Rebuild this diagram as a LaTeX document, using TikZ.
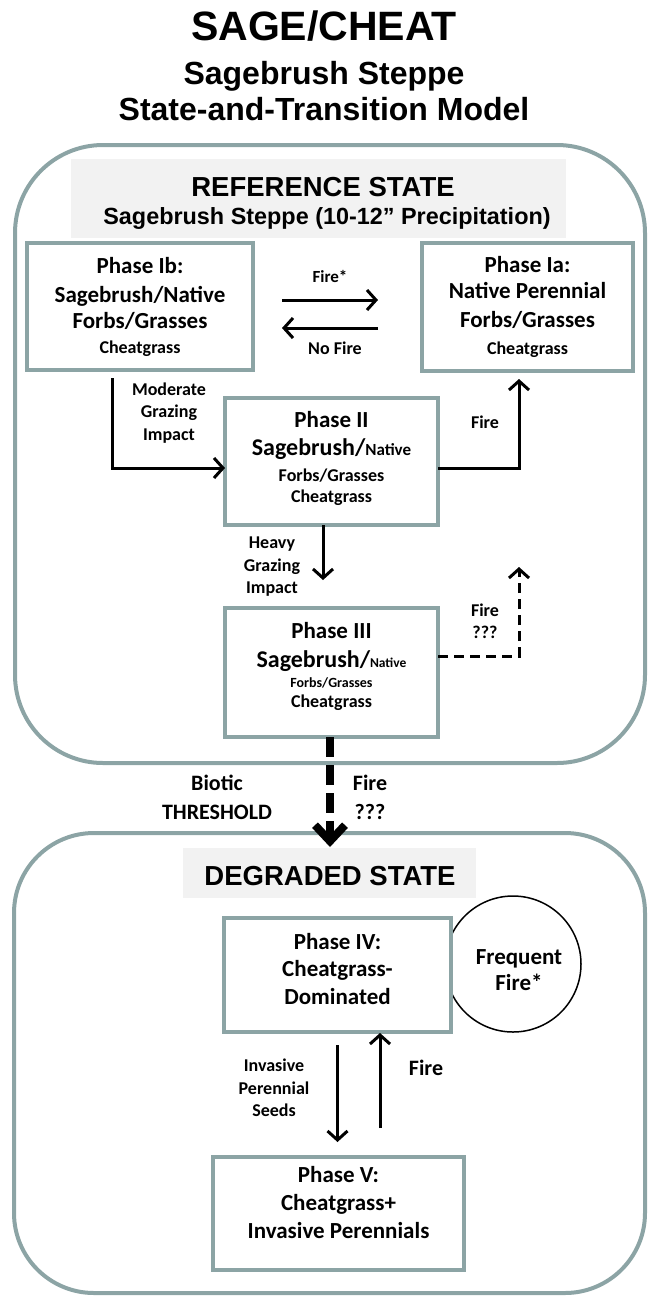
\documentclass[tikz,border=0pt]{standalone}
\usepackage{fontspec}
\setmainfont{Carlito}
\newfontfamily\headfont{Liberation Sans}
\usetikzlibrary{arrows.meta}
\newcommand\lowpad[1]{\rule[-#1]{0pt}{#1}}

\begin{document}
\begin{tikzpicture}[x=1pt,y=-1pt,
  phase/.style={draw=sc_teal,line width=4pt,fill=white,outer sep=0pt,inner sep=0pt,align=center},
  statebox/.style={draw=sc_teal,line width=4pt},
  band/.style={fill=sc_band},
  trans/.style={line width=3pt,-{Straight Barb[length=9pt,width=20pt]}},
  lbl/.style={align=center,font=\bfseries\fontsize{18}{22.5}\selectfont},
  biglbl/.style={align=center,font=\bfseries\fontsize{22}{29}\selectfont},
  head/.style={font=\headfont\bfseries,anchor=base}]

% ------------------------------------------------ sage/cheat colors
\definecolor{sc_teal}{RGB}{140,164,165}  %#8CA4A5
\definecolor{sc_band}{RGB}{242,242,242}  %#F2F2F2

\useasboundingbox (0,0) rectangle (649,1296);

% ------------------------------------------------ title
\node[head,font=\headfont\bfseries\fontsize{41}{41}\selectfont] (title) at (324,40) {SAGE/CHEAT};
\node[head,font=\headfont\bfseries\fontsize{32}{32}\selectfont] (subtitle) at (324,84) {Sagebrush Steppe};
\node[head,font=\headfont\bfseries\fontsize{32}{32}\selectfont] (model) at (324,120) {State-and-Transition Model};

% ------------------------------------------------ states
\draw[statebox,rounded corners=88pt] (15,145) rectangle (645,763);
\draw[statebox,rounded corners=80pt] (14,833) rectangle (645,1293);

\fill[band] (71,159) rectangle (566,238);
\fill[band] (183,848) rectangle (476,898);

\node[head,font=\headfont\bfseries\fontsize{27.5}{27.5}\selectfont] (refstate) at (323,196) {REFERENCE STATE};
\node[head,font=\headfont\bfseries\fontsize{23.4}{23.4}\selectfont] (refsub) at (327,224) {Sagebrush Steppe (10-12” Precipitation)};
\node[head,font=\headfont\bfseries\fontsize{27.5}{27.5}\selectfont] (degstate) at (330,885) {DEGRADED STATE};

% ------------------------------------------------ frequent fire loop
\draw[line width=1.5pt] (513,964) circle[radius=68pt];

% ------------------------------------------------ phases
\node[phase,minimum width=226pt,minimum height=127pt,font=\bfseries\fontsize{23}{27}\selectfont] (phIb) at (140,306.5)
  {Phase Ib:\\[2pt]Sagebrush/Native\\[-1pt]Forbs/Grasses\\[-2pt]{\fontsize{18}{20}\selectfont Cheatgrass}};
\node[phase,minimum width=211pt,minimum height=128pt,font=\bfseries\fontsize{23}{27}\selectfont] (phIa) at (527.5,307)
  {Phase Ia:\\[-1pt]Native Perennial\\[2pt]Forbs/Grasses\\{\fontsize{18}{20}\selectfont Cheatgrass}};
\node[phase,minimum width=213pt,minimum height=127pt,font=\bfseries\fontsize{23}{28}\selectfont] (phII) at (331.5,461.5)
  {Phase II\\{\fontsize{24}{28}\selectfont Sagebrush/}{\fontsize{17}{20}\selectfont Native}\\[-2pt]{\fontsize{18}{20}\selectfont Forbs/Grasses}\\[-7pt]{\fontsize{18}{20}\selectfont Cheatgrass}\lowpad{10pt}};
\node[phase,minimum width=213pt,minimum height=129pt,font=\bfseries\fontsize{23}{29}\selectfont] (phIII) at (331.5,672.5)
  {Phase III\\{\fontsize{24}{28}\selectfont Sagebrush/}{\fontsize{13.5}{16}\selectfont Native}\\[-9pt]{\fontsize{14}{16}\selectfont Forbs/Grasses}\\[-9pt]{\fontsize{18}{20}\selectfont Cheatgrass}\lowpad{16pt}};
\node[phase,minimum width=227pt,minimum height=114pt,font=\bfseries\fontsize{23}{27.5}\selectfont] (phIV) at (337.5,975)
  {Phase IV:\\Cheatgrass-\\Dominated\lowpad{13pt}};
\node[phase,minimum width=251pt,minimum height=113pt,font=\bfseries\fontsize{23}{28}\selectfont] (phV) at (338.5,1213.5)
  {Phase V:\\Cheatgrass+\\Invasive Perennials\lowpad{23pt}};

% ------------------------------------------------ transitions
\coordinate (fireup) at (519,567);
\coordinate (thresh) at (330,847);

\draw[trans] ([xshift=29pt,yshift=6.5pt]phIb.east) -- ([xshift=-44pt,yshift=7pt]phIa.west);
\draw[trans] ([xshift=-44pt,yshift=-21pt]phIa.west) -- ([xshift=29pt,yshift=-21.5pt]phIb.east);
\draw[trans] ([xshift=-28pt,yshift=-8pt]phIb.south) |- ([yshift=-6.5pt]phII.west);
\draw[trans] ([yshift=-6.5pt]phII.east) -| ([xshift=-8.5pt,yshift=-8pt]phIa.south);
\draw[trans] ([xshift=-8.5pt]phII.south) -- ([xshift=-8.5pt,yshift=-55pt]phII.south);
\draw[trans,dash pattern=on 10pt off 6pt] ([yshift=16.5pt]phIII.east) -| (fireup);
\draw[line width=8pt,dash pattern=on 20pt off 8pt,-{Straight Barb[length=16pt,width=30pt]}] ([xshift=-1.5pt]phIII.south) -- (thresh);
\draw[trans] ([yshift=-13pt]phIV.south) -- ([xshift=-1pt,yshift=15pt]phV.north);
\draw[trans] ([xshift=41.5pt,yshift=29pt]phV.north) -- ([xshift=42.5pt,yshift=-1pt]phIV.south);

% ------------------------------------------------ labels
\node[lbl,font=\bfseries\fontsize{17}{20}\selectfont] (lfirestar) at (330,276) {Fire*};
\node[lbl] (lnofire) at (335,348) {No Fire};
\node[lbl] (lmoderate) at (169,413) {Moderate\\Grazing\\Impact};
\node[lbl] (lfire) at (485,422) {Fire};
\node[lbl] (lheavy) at (272,567) {Heavy\\Grazing\\Impact};
\node[lbl] (lfireq) at (485,621) {Fire\\???};
\node[biglbl] (lbiotic) at (217,797) {Biotic\\THRESHOLD};
\node[biglbl] (lthreshfire) at (370,797) {Fire\\???};
\node[biglbl,font=\bfseries\fontsize{23}{26}\selectfont] (lfrequent) at (519,970) {Frequent\\Fire*};
\node[lbl] (lseeds) at (274,1088) {Invasive\\Perennial\\Seeds};
\node[biglbl] (lfireback) at (426,1068) {Fire};

\end{tikzpicture}
\end{document}
